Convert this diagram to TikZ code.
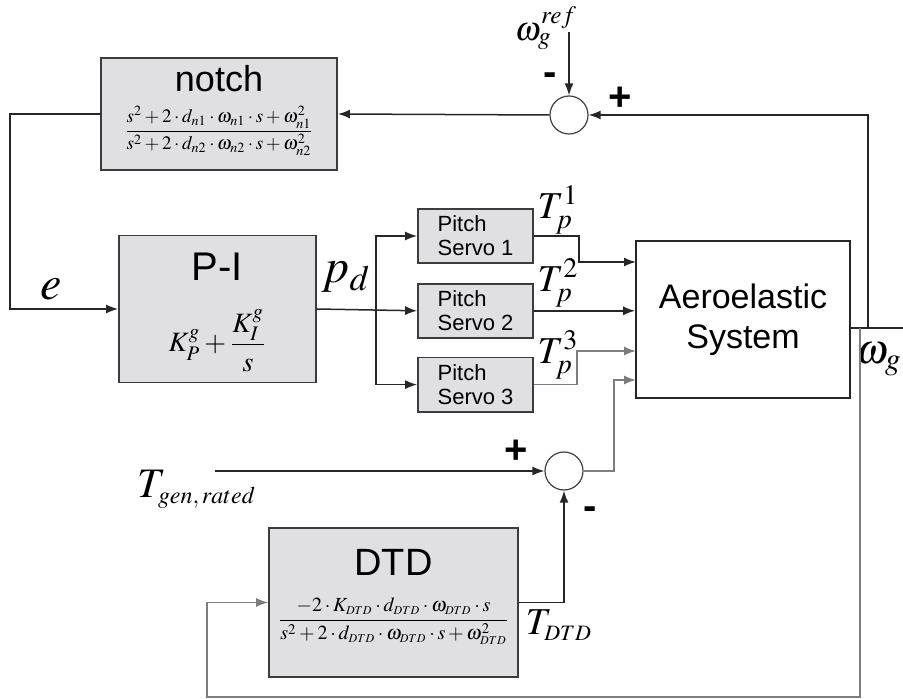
\documentclass[tikz,border=0pt]{standalone}
\usepackage{amsmath}
\usepackage{mathptmx}
\usepackage[no-math]{fontspec}
\setmainfont{Liberation Sans}
\usetikzlibrary{arrows.meta,positioning,calc}
\definecolor{boxgray}{RGB}{224,224,226}
\definecolor{edgegray}{RGB}{60,60,60}
\definecolor{wiregray}{RGB}{125,125,125}
\newcommand{\sdtd}{\mbox{\fontsize{6}{7}\selectfont$DTD$}}

\begin{document}
\begin{tikzpicture}[
  x=0.5pt,y=-0.5pt,
  node distance=9.5pt,
  block/.style={draw=edgegray,fill=boxgray,line width=0.9pt,rectangle,inner sep=0pt},
  plant/.style={draw=black!85,fill=white,line width=0.9pt,rectangle,align=center,
    minimum width=107pt,minimum height=78.5pt,font=\fontsize{17}{20}\selectfont},
  servo/.style={block,align=left,minimum width=57.5pt,minimum height=27pt,
    font=\fontsize{11}{12}\selectfont},
  title/.style={font=\fontsize{18}{20}\selectfont,inner sep=0pt},
  tf/.style={inner sep=0pt},
  sum/.style={draw=black!75,fill=white,circle,minimum size=19pt,inner sep=0pt,line width=0.6pt},
  sig/.style={font=\fontsize{19}{21}\selectfont,inner sep=0pt},
  sign/.style={font=\bfseries\fontsize{20}{20}\selectfont,inner sep=0pt},
  arrow/.style={-{Latex[length=6pt,width=4.5pt]},draw=black!85,line width=0.75pt},
  wire/.style={draw=black!85,line width=0.75pt},
  garrow/.style={arrow,draw=wiregray}
]
\useasboundingbox (0,0) rectangle (903,699);

% blocks
\node[block,minimum width=118pt,minimum height=56pt] (notch) at (219,114) {};
\node[title] (notchname) at ($(notch.north)+(0,22)$) {notch};
\node[tf,font=\fontsize{9.5}{11}\selectfont] (notchtf) at ($(notch.north)+(0,74)$)
  {$\dfrac{s^2+2\cdot d_{n1}\cdot\omega_{n1}\cdot s+\omega_{n1}^2}{s^2+2\cdot d_{n2}\cdot\omega_{n2}\cdot s+\omega_{n2}^2}$};

\node[block,minimum width=98.5pt,minimum height=73.5pt] (pi) at (217.5,309) {};
\node[title,font=\fontsize{20}{22}\selectfont] (piname) at ($(pi.north)+(0,32)$) {P-I};
\node[tf,font=\fontsize{14}{16}\selectfont] (pitf) at ($(pi.north)+(0,106)$)
  {$K_P^g+\dfrac{K_I^g}{s}$};

\node[servo] (servo1) at (475.5,236) {Pitch\\Servo 1};
\node[servo,below=of servo1] (servo2) {Pitch\\Servo 2};
\node[servo,below=9pt of servo2] (servo3) {Pitch\\Servo 3};

\node[plant] (aero) at (743,319.5) {Aeroelastic\\System};

\node[block,minimum width=124.5pt,minimum height=74.5pt] (dtd) at (393.5,602.5) {};
\node[title,font=\fontsize{19}{21}\selectfont] (dtdname) at ($(dtd.north)+(0,35)$) {DTD};
\node[tf,font=\fontsize{10}{12}\selectfont] (dtdtf) at ($(dtd.north)+(0,94)$)
  {$\dfrac{-2\cdot K_{\sdtd}\cdot d_{\sdtd}\cdot\omega_{\sdtd}\cdot s}{s^2+2\cdot d_{\sdtd}\cdot\omega_{\sdtd}\cdot s+\omega_{\sdtd}^2}$};

\node[sum] (sum1) at (569,115) {};
\node[sum] (sum2) at (564,471) {};

% signals
\node[sig,font=\fontsize{24}{26}\selectfont] (e) at (51,289) {$e$};
\node[sig,font=\fontsize{24}{26}\selectfont] (pd) at (346,277) {$p_d$};
\node[sig,font=\fontsize{17}{19}\selectfont] (wref) at (546,28) {$\omega_g^{ref}$};
\node[sig] (tp1) at (558,210) {$T_p^1$};
\node[sig] (tp2) at (558,283) {$T_p^2$};
\node[sig] (tp3) at (558,355) {$T_p^3$};
\node[sig,font=\fontsize{21}{23}\selectfont] (wg) at (879,359) {$\omega_g$};
\node[sig,font=\fontsize{21}{23}\selectfont] (tgenlab) at (197,489)
  {$T_{\mbox{\fontsize{12}{13}\selectfont$gen,rated$}}$};
\node[sig] (tdtd) at (559,625) {$T_{\mbox{\fontsize{11}{12}\selectfont$DTD$}}$};

\node[sign] (m1) at (550,79) {-};
\node[sign] (p1) at (620,99) {+};
\node[sign] (p2) at (516,452) {+};
\node[sign] (m2) at (590,513) {-};

% connectors
\coordinate (wreftip) at (569,32);
\coordinate (br) at (376,309);
\coordinate (in1) at (636,262);
\coordinate (in3) at (636,351);
\coordinate (in4) at (636,380);
\coordinate (tgen) at (215,471);
\coordinate (yout) at (903,328);
\coordinate (fb1) at (868,328);
\coordinate (fb2) at (860,328);

\draw[arrow] (wreftip) -- (sum1.north);
\draw[arrow] (sum1.west) -- (notch.east);
\draw[arrow] (notch.west) -- ++(-90,0) |- (pi.west);
\draw[arrow] (pi.east) -- (servo2.west);
\draw[arrow] (br) |- (servo1.west);
\draw[arrow] (br) |- (servo3.west);
\draw[arrow] (servo1.east) -- ++(45,0) |- (in1);
\draw[arrow] (servo2.east) -- (servo2.east -| aero.west);
\draw[garrow] (servo3.east) -- ++(43,0) |- (in3);
\draw[garrow] (sum2.east) -| ($(in4)+(-22,0)$) -- (in4);
\draw[arrow] (tgen) -- (sum2.west);
\draw[arrow] (dtd.east) -| (sum2.south);
\draw[wire] (aero.east |- yout) -- (yout);
\draw[arrow] (fb1) |- (sum1.east);
\draw[garrow] (fb2) -- ++(0,369) -| ($(dtd.west)+(-61,0)$) -- (dtd.west);
\end{tikzpicture}
\end{document}
